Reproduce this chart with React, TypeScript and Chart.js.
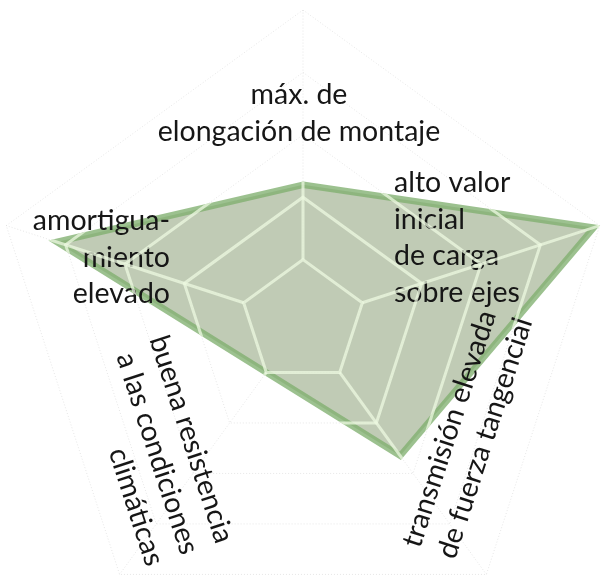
import React, { useEffect, useRef } from "react";
import { Chart, registerables } from "chart.js";

Chart.register(...registerables);

// ---- data ----
const categories: string[][] = [
  ["máx. de", "elongación de montaje"],
  ["alto valor", "inicial", "de carga", "sobre ejes"],
  ["transmisión elevada", "de fuerza tangencial"],
  ["buena resistencia", "a las condiciones", "climáticas"],
  ["amortigua-", "miento", "elevado"],
];
const values: number[] = [2.2, 4.9, 2.65, 1.0, 4.15];
const scaleMin = 0;
const scaleMax = 5;
const ringValues: number[] = [1, 2, 3, 4, 5];

// ---- label placement (relative to the radar centre) ----
const labelLayout = [
  { dx: -4, dy: -218, align: "center", rot: 0 },
  { dx: 91, dy: -130, align: "left", rot: 0 },
  { dx: 117, dy: 227, align: "left", rot: -72 },
  { dx: -87, dy: 223, align: "right", rot: 72 },
  { dx: -133, dy: -92, align: "right", rot: 0 },
];
const LINE_GAP = 36.7;
const FONT = "400 28.5px Lato";
const BORDER_W = 6.5;

function ringPath(ctx: CanvasRenderingContext2D, scale: any, v: number, n: number) {
  ctx.beginPath();
  for (let i = 0; i < n; i++) {
    const p = scale.getPointPositionForValue(i, v);
    if (i === 0) ctx.moveTo(p.x, p.y);
    else ctx.lineTo(p.x, p.y);
  }
  ctx.closePath();
}

function drawGridLines(ctx: CanvasRenderingContext2D, scale: any, n: number) {
  for (const v of ringValues) {
    ringPath(ctx, scale, v, n);
    ctx.stroke();
  }
  const inner = ringValues[0];
  const outer = ringValues[ringValues.length - 1];
  for (let i = 0; i < n; i++) {
    const a = scale.getPointPositionForValue(i, inner);
    const b = scale.getPointPositionForValue(i, outer);
    ctx.beginPath();
    ctx.moveTo(a.x, a.y);
    ctx.lineTo(b.x, b.y);
    ctx.stroke();
  }
}

// polygon of the dataset, grown outward by d (miter offset)
function grownPolygon(pts: { x: number; y: number }[], d: number) {
  const n = pts.length;
  const out: { x: number; y: number }[] = [];
  for (let i = 0; i < n; i++) {
    const A = pts[(i - 1 + n) % n];
    const P = pts[i];
    const B = pts[(i + 1) % n];
    let e1x = P.x - A.x, e1y = P.y - A.y;
    const l1 = Math.hypot(e1x, e1y) || 1;
    e1x /= l1; e1y /= l1;
    let e2x = B.x - P.x, e2y = B.y - P.y;
    const l2 = Math.hypot(e2x, e2y) || 1;
    e2x /= l2; e2y /= l2;
    const n1x = e1y, n1y = -e1x;
    const n2x = e2y, n2y = -e2x;
    const dot = n1x * n2x + n1y * n2y;
    const k = d / (1 + dot);
    out.push({ x: P.x + (n1x + n2x) * k, y: P.y + (n1y + n2y) * k });
  }
  return out;
}

const radarDecor = {
  id: "radarDecor",
  beforeDatasetsDraw(chart: any) {
    const ctx = chart.ctx as CanvasRenderingContext2D;
    const scale = chart.scales.r;
    ctx.save();
    ctx.strokeStyle = "rgba(0,0,0,0.1)";
    ctx.lineWidth = 1;
    ctx.setLineDash([1, 2]);
    drawGridLines(ctx, scale, categories.length);
    ctx.restore();
  },
  afterDatasetsDraw(chart: any) {
    const ctx = chart.ctx as CanvasRenderingContext2D;
    const scale = chart.scales.r;
    const cx = scale.xCenter;
    const cy = scale.yCenter;
    ctx.save();
    ctx.font = FONT;
    ctx.fillStyle = "#161616";
    ctx.textBaseline = "alphabetic";
    categories.forEach((lines, i) => {
      const L = labelLayout[i];
      ctx.save();
      ctx.translate(cx + L.dx, cy + L.dy);
      ctx.rotate((L.rot * Math.PI) / 180);
      ctx.textAlign = L.align as CanvasTextAlign;
      lines.forEach((t, k) => ctx.fillText(t, 0, k * LINE_GAP));
      ctx.restore();
    });
    ctx.restore();
  },
  afterDraw(chart: any) {
    const ctx = chart.ctx as CanvasRenderingContext2D;
    const scale = chart.scales.r;
    const meta = chart.getDatasetMeta(0);
    const pts = meta.data.map((p: any) => ({ x: p.x, y: p.y }));
    const poly = grownPolygon(pts, BORDER_W / 2);
    ctx.save();
    ctx.beginPath();
    poly.forEach((p, i) => (i === 0 ? ctx.moveTo(p.x, p.y) : ctx.lineTo(p.x, p.y)));
    ctx.closePath();
    ctx.clip();
    ctx.strokeStyle = "rgba(238,250,226,0.75)";
    ctx.lineWidth = 3;
    ctx.lineJoin = "miter";
    drawGridLines(ctx, scale, categories.length);
    ctx.restore();
  },
};

export default function App() {
  const ref = useRef<HTMLCanvasElement>(null);
  useEffect(() => {
    const chart = new Chart(ref.current as HTMLCanvasElement, {
      type: "radar",
      data: {
        labels: categories.map((l) => l.join(" ")),
        datasets: [
          {
            data: values,
            backgroundColor: "rgba(140,160,120,0.55)",
            borderColor: "rgba(128,176,112,0.78)",
            borderWidth: BORDER_W,
            pointRadius: 0,
            pointHoverRadius: 0,
            fill: true,
          },
        ],
      },
      options: {
        responsive: false,
        maintainAspectRatio: false,
        animation: false,
        layout: { padding: 0 },
        plugins: { legend: { display: false }, tooltip: { enabled: false } },
        scales: {
          r: {
            min: scaleMin,
            max: scaleMax,
            ticks: { display: false, stepSize: 1 },
            grid: { display: false },
            angleLines: { display: false },
            pointLabels: { display: false },
          },
        },
      },
      plugins: [radarDecor],
    });
    return () => chart.destroy();
  }, []);
  return (
    <div
      style={{
        position: "fixed",
        left: 0,
        top: 0,
        width: 606,
        height: 581,
        overflow: "hidden",
        background: "#ffffff",
      }}
    >
      <canvas
        ref={ref}
        width={625}
        height={625}
        style={{ position: "absolute", left: -9, top: 10, width: 625, height: 625 }}
      />
    </div>
  );
}
